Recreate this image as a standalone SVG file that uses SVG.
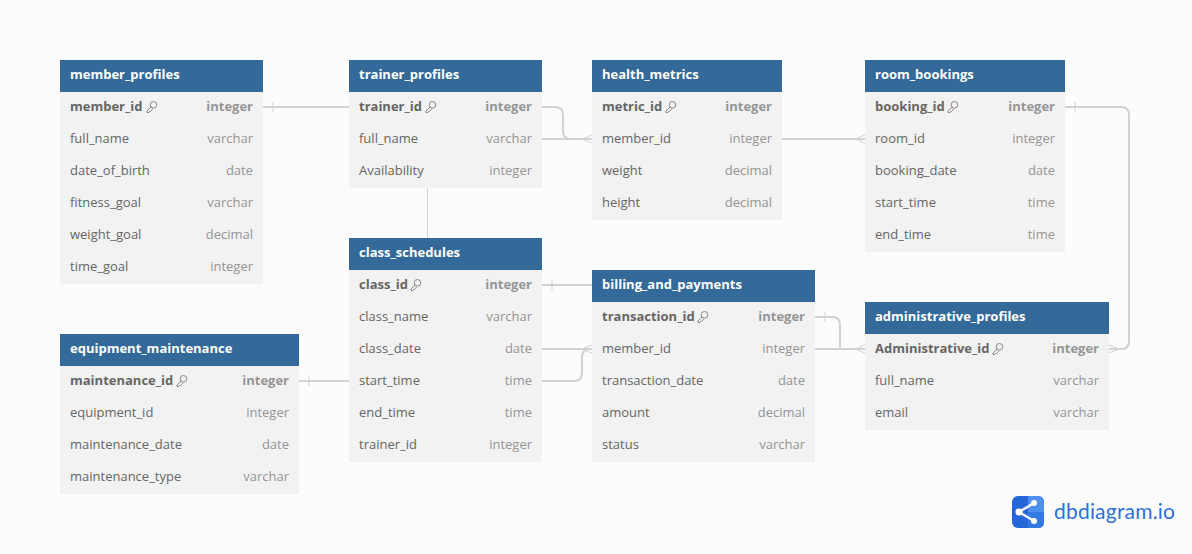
<svg xmlns="http://www.w3.org/2000/svg" width="1192" height="554" viewBox="0 0 1192 554">
<style>
text{font-family:"Open Sans","Noto Sans",sans-serif;font-size:13px}
.body{fill:#f2f2f2}
.hd{fill:#336a99}
.ht{fill:#fff;font-weight:700}
.n{fill:#666}
.k{fill:#666;font-weight:700}
.t{fill:#959595;text-anchor:end}
.tk{fill:#959595;text-anchor:end;font-weight:700}
.c{fill:none;stroke:#d2d2d2;stroke-width:2}
.m{fill:none;stroke:#d2d2d2;stroke-width:1}
.key{fill:none;stroke:#888;stroke-width:1}
</style>
<defs>
<g id="key"><circle cx="7.500" cy="3.800" r="3.300" class="key"/><path class="key" d="M5 6L1 10V11.500H3L3.500 10.500H4.500L7 7.500"/></g>
</defs>
<rect width="1192" height="554" fill="#fcfcfc"/>
<g id="connectors">
<path class="c" d="M263 107H349"/><path class="m" d="M273 102V112"/>
<path class="c" d="M542 107H555Q563 107 563 115V131Q563 139 571 139H592"/>
<path class="c" d="M542 139H592"/><path class="m" d="M592 135L582 139L592 143"/>
<path class="c" d="M782 139H865"/><path class="m" d="M865 135L855 139L865 143"/>
<path class="m" d="M427.500 188V238"/>
<path class="c" d="M542 285H592"/><path class="m" d="M552 280V290"/>
<path class="c" d="M542 349H592"/><path class="m" d="M592 345L582 349L592 353"/>
<path class="c" d="M542 381H574Q582 381 582 373V357Q582 349 590 349H592"/>
<path class="c" d="M815 317H832Q840 317 840 325V349"/><path class="m" d="M825 312V322"/>
<path class="c" d="M815 349H865"/><path class="m" d="M865 345L855 349L865 353"/>
<path class="c" d="M1065 107H1121Q1129 107 1129 115V341Q1129 349 1121 349H1109"/><path class="m" d="M1075 102V112"/><path class="m" d="M1109 345L1119 349L1109 353"/>
<path class="c" d="M299 381H349"/><path class="m" d="M309 376V386"/>
</g>
<g id="member_profiles">
<rect class="body" x="60" y="60" width="203" height="224"/><rect class="hd" x="60" y="60" width="203" height="32"/>
<text class="ht" x="70" y="79">member_profiles</text>
<text class="k" x="70" y="111">member_id</text><use href="#key" x="146" y="101"/><text class="tk" x="253" y="111">integer</text>
<text class="n" x="70" y="143">full_name</text><text class="t" x="253" y="143">varchar</text>
<text class="n" x="70" y="175">date_of_birth</text><text class="t" x="253" y="175">date</text>
<text class="n" x="70" y="207">fitness_goal</text><text class="t" x="253" y="207">varchar</text>
<text class="n" x="70" y="239">weight_goal</text><text class="t" x="253" y="239">decimal</text>
<text class="n" x="70" y="271">time_goal</text><text class="t" x="253" y="271">integer</text>
</g>
<g id="trainer_profiles">
<rect class="body" x="349" y="60" width="193" height="128"/><rect class="hd" x="349" y="60" width="193" height="32"/>
<text class="ht" x="359" y="79">trainer_profiles</text>
<text class="k" x="359" y="111">trainer_id</text><use href="#key" x="425" y="101"/><text class="tk" x="532" y="111">integer</text>
<text class="n" x="359" y="143">full_name</text><text class="t" x="532" y="143">varchar</text>
<text class="n" x="359" y="175">Availability</text><text class="t" x="532" y="175">integer</text>
</g>
<g id="health_metrics">
<rect class="body" x="592" y="60" width="190" height="160"/><rect class="hd" x="592" y="60" width="190" height="32"/>
<text class="ht" x="602" y="79">health_metrics</text>
<text class="k" x="602" y="111">metric_id</text><use href="#key" x="665" y="101"/><text class="tk" x="772" y="111">integer</text>
<text class="n" x="602" y="143">member_id</text><text class="t" x="772" y="143">integer</text>
<text class="n" x="602" y="175">weight</text><text class="t" x="772" y="175">decimal</text>
<text class="n" x="602" y="207">height</text><text class="t" x="772" y="207">decimal</text>
</g>
<g id="room_bookings">
<rect class="body" x="865" y="60" width="200" height="192"/><rect class="hd" x="865" y="60" width="200" height="32"/>
<text class="ht" x="875" y="79">room_bookings</text>
<text class="k" x="875" y="111">booking_id</text><use href="#key" x="947" y="101"/><text class="tk" x="1055" y="111">integer</text>
<text class="n" x="875" y="143">room_id</text><text class="t" x="1055" y="143">integer</text>
<text class="n" x="875" y="175">booking_date</text><text class="t" x="1055" y="175">date</text>
<text class="n" x="875" y="207">start_time</text><text class="t" x="1055" y="207">time</text>
<text class="n" x="875" y="239">end_time</text><text class="t" x="1055" y="239">time</text>
</g>
<g id="class_schedules">
<rect class="body" x="349" y="238" width="193" height="224"/><rect class="hd" x="349" y="238" width="193" height="32"/>
<text class="ht" x="359" y="257">class_schedules</text>
<text class="k" x="359" y="289">class_id</text><use href="#key" x="410" y="279"/><text class="tk" x="532" y="289">integer</text>
<text class="n" x="359" y="321">class_name</text><text class="t" x="532" y="321">varchar</text>
<text class="n" x="359" y="353">class_date</text><text class="t" x="532" y="353">date</text>
<text class="n" x="359" y="385">start_time</text><text class="t" x="532" y="385">time</text>
<text class="n" x="359" y="417">end_time</text><text class="t" x="532" y="417">time</text>
<text class="n" x="359" y="449">trainer_id</text><text class="t" x="532" y="449">integer</text>
</g>
<g id="billing_and_payments">
<rect class="body" x="592" y="270" width="223" height="192"/><rect class="hd" x="592" y="270" width="223" height="32"/>
<text class="ht" x="602" y="289">billing_and_payments</text>
<text class="k" x="602" y="321">transaction_id</text><use href="#key" x="697" y="311"/><text class="tk" x="805" y="321">integer</text>
<text class="n" x="602" y="353">member_id</text><text class="t" x="805" y="353">integer</text>
<text class="n" x="602" y="385">transaction_date</text><text class="t" x="805" y="385">date</text>
<text class="n" x="602" y="417">amount</text><text class="t" x="805" y="417">decimal</text>
<text class="n" x="602" y="449">status</text><text class="t" x="805" y="449">varchar</text>
</g>
<g id="administrative_profiles">
<rect class="body" x="865" y="302" width="244" height="128"/><rect class="hd" x="865" y="302" width="244" height="32"/>
<text class="ht" x="875" y="321">administrative_profiles</text>
<text class="k" x="875" y="353">Administrative_id</text><use href="#key" x="992" y="343"/><text class="tk" x="1099" y="353">integer</text>
<text class="n" x="875" y="385">full_name</text><text class="t" x="1099" y="385">varchar</text>
<text class="n" x="875" y="417">email</text><text class="t" x="1099" y="417">varchar</text>
</g>
<g id="equipment_maintenance">
<rect class="body" x="60" y="334" width="239" height="160"/><rect class="hd" x="60" y="334" width="239" height="32"/>
<text class="ht" x="70" y="353">equipment_maintenance</text>
<text class="k" x="70" y="385">maintenance_id</text><use href="#key" x="176" y="375"/><text class="tk" x="289" y="385">integer</text>
<text class="n" x="70" y="417">equipment_id</text><text class="t" x="289" y="417">integer</text>
<text class="n" x="70" y="449">maintenance_date</text><text class="t" x="289" y="449">date</text>
<text class="n" x="70" y="481">maintenance_type</text><text class="t" x="289" y="481">varchar</text>
</g>
<g id="logo">
<rect x="1012" y="496" width="32" height="32" rx="6" fill="#2566d8"/>
<path d="M1028 512H1044V522Q1044 528 1038 528H1028Z" fill="#3478e4"/>
<path d="M1028 496H1038Q1044 496 1044 502V512H1028Z" fill="#4f90ee"/>
<path d="M1019 512L1034 503M1019 512L1034 521" stroke="#fff" stroke-width="2.500" fill="none"/>
<circle cx="1019" cy="512" r="3.500" fill="#fff"/><circle cx="1034" cy="503" r="3" fill="#fff"/><circle cx="1034" cy="521" r="3" fill="#fff"/>
<text x="1054" y="519" style="font-size:21px;letter-spacing:0.2px;fill:#2f6fd8;font-family:Lato,'Open Sans',sans-serif">dbdiagram.io</text>
</g>
</svg>
